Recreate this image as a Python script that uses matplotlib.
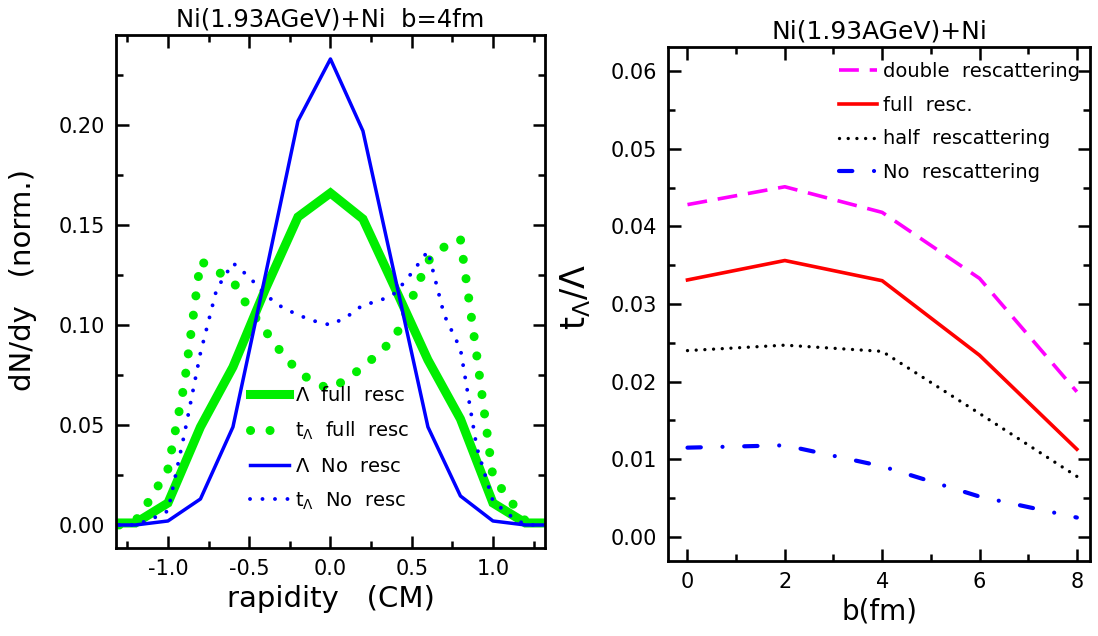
import matplotlib
matplotlib.use("Agg")
import matplotlib.pyplot as plt
from matplotlib.ticker import MultipleLocator, FormatStrFormatter

plt.rcParams['font.family'] = ['DejaVu Sans']
plt.rcParams['mathtext.fontset'] = 'dejavusans'

# left panel: rapidity distributions (b = 4 fm)
rap_coarse = [-1.4, -1.2, -1.0, -0.8, -0.6, -0.4, -0.2, 0.0, 0.2, 0.4, 0.6, 0.8, 1.0, 1.2, 1.4]
lam_full = [0.001, 0.001, 0.011, 0.049, 0.079, 0.118, 0.154, 0.166, 0.153, 0.118, 0.0825, 0.053, 0.011, 0.001, 0.001]
lam_nores = [0.0, 0.0, 0.002, 0.013, 0.049, 0.125, 0.202, 0.233, 0.197, 0.123, 0.049, 0.0145, 0.002, 0.0, 0.0]

rap_fine = [-1.3, -1.2, -1.1, -1.0, -0.9, -0.8, -0.7, -0.6, -0.5, -0.4, -0.3, -0.2, -0.1, 0.0,
            0.1, 0.2, 0.3, 0.4, 0.5, 0.6, 0.7, 0.8, 0.9, 1.0, 1.1, 1.2, 1.3]
hyp_full = [0.0, 0.002, 0.014, 0.028, 0.07, 0.132, 0.127, 0.122, 0.108, 0.097, 0.086, 0.077, 0.071, 0.068,
            0.073, 0.079, 0.086, 0.094, 0.113, 0.132, 0.139, 0.143, 0.085, 0.024, 0.013, 0.002, 0.0]
hyp_nores = [0.0, 0.0, 0.003, 0.007, 0.045, 0.086, 0.118, 0.131, 0.124, 0.115, 0.109, 0.105, 0.102, 0.100,
             0.104, 0.110, 0.112, 0.116, 0.126, 0.137, 0.105, 0.088, 0.039, 0.012, 0.005, 0.0, 0.0]

# right panel: ratio t_Lambda / Lambda vs impact parameter
b_fm = [0, 2, 4, 6, 8]
ratio_double = [0.0428, 0.0451, 0.0418, 0.0333, 0.0187]
ratio_full = [0.0331, 0.0356, 0.0330, 0.0234, 0.0113]
ratio_half = [0.0240, 0.0247, 0.0239, 0.0159, 0.0078]
ratio_none = [0.0115, 0.0118, 0.0091, 0.0052, 0.0025]

fig = plt.figure(figsize=(10.98, 6.36), dpi=100)
ax1 = fig.add_axes([0.1056, 0.1384, 0.3907, 0.8066])
ax2 = fig.add_axes([0.6084, 0.1179, 0.3843, 0.8082])

green = '#00ee00'
blue = '#0000ff'

ax1.plot(rap_coarse, lam_full, color=green, lw=6.5, solid_joinstyle='miter',
         label=r'$\Lambda$  full  resc')
ax1.plot(rap_fine, hyp_full, color=green, lw=6.5, linestyle=(0, (0.01, 2.15)),
         dash_capstyle='round', label=r't$_\Lambda$  full  resc')
ax1.plot(rap_coarse, lam_nores, color=blue, lw=2.5, label=r'$\Lambda$  No  resc')
ax1.plot(rap_fine, hyp_nores, color=blue, lw=2.8, linestyle=(0, (0.01, 3.2)),
         dash_capstyle='round', label=r't$_\Lambda$  No  resc')

ax1.set_xlim(-1.32, 1.32)
ax1.set_ylim(-0.0115, 0.245)
ax1.xaxis.set_major_locator(MultipleLocator(0.5))
ax1.xaxis.set_minor_locator(MultipleLocator(0.25))
ax1.yaxis.set_major_locator(MultipleLocator(0.05))
ax1.yaxis.set_minor_locator(MultipleLocator(0.025))
ax1.xaxis.set_major_formatter(FormatStrFormatter('%.1f'))
ax1.yaxis.set_major_formatter(FormatStrFormatter('%.2f'))
ax1.set_xlabel('rapidity   (CM)', fontsize=21)
ax1.set_ylabel('dN/dy   (norm.)', fontsize=21)
ax1.yaxis.set_label_coords(-0.184, 0.522)
ax1.set_title('Ni(1.93AGeV)+Ni  b=4fm', fontsize=17.5, pad=6)
ax1.legend(loc='lower left', bbox_to_anchor=(0.29, 0.052), frameon=False, fontsize=14,
           handlelength=2.0, handletextpad=0.3, labelspacing=0.76, borderpad=0)

ax2.plot(b_fm, ratio_double, color='#ff00ff', lw=2.6, linestyle=(0, (5.5, 3)),
         label='double  rescattering')
ax2.plot(b_fm, ratio_full, color='#ff0000', lw=2.6, label='full  resc.')
ax2.plot(b_fm, ratio_half, color='black', lw=2.4, linestyle=(0, (0.01, 2.6)),
         dash_capstyle='round', label='half  rescattering')
ax2.plot(b_fm, ratio_none, color=blue, lw=3.0, linestyle=(0, (3.2, 5.2, 0.01, 5.2)),
         dash_capstyle='round', label='No  rescattering')

ax2.set_xlim(-0.4, 8.27)
ax2.set_ylim(-0.0031, 0.0631)
ax2.xaxis.set_major_locator(MultipleLocator(2))
ax2.xaxis.set_minor_locator(MultipleLocator(1))
ax2.yaxis.set_major_locator(MultipleLocator(0.01))
ax2.yaxis.set_minor_locator(MultipleLocator(0.005))
ax2.yaxis.set_major_formatter(FormatStrFormatter('%.2f'))
ax2.set_xlabel('b(fm)', fontsize=20)
ax2.set_ylabel(r't$_\Lambda$/$\Lambda$', fontsize=24)
ax2.yaxis.set_label_coords(-0.178, 0.514)
ax2.set_title('Ni(1.93AGeV)+Ni', fontsize=18, pad=6)
ax2.legend(loc='upper right', bbox_to_anchor=(1.0, 0.99), frameon=False, fontsize=14,
           handlelength=2.0, handletextpad=0.3, labelspacing=0.76, borderpad=0)

for ax in (ax1, ax2):
    for sp in ax.spines.values():
        sp.set_linewidth(2)
    ax.tick_params(which='both', direction='in', top=True, right=True, width=1.8)
    ax.tick_params(which='major', length=9, labelsize=15, pad=8)
    ax.tick_params(which='minor', length=5)

fig.savefig('out.png', dpi=100)
